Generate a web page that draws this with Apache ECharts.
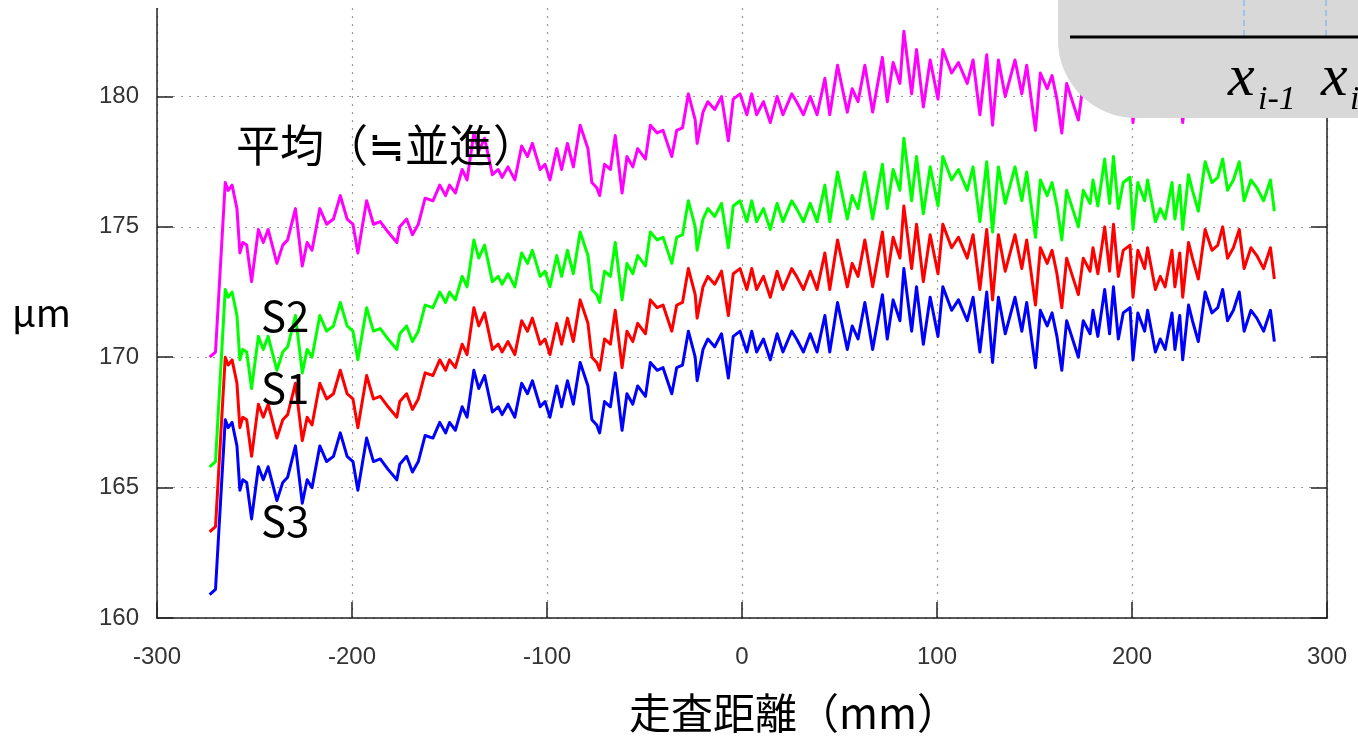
<!DOCTYPE html>
<html><head><meta charset="utf-8">
<script src="https://cdn.jsdelivr.net/npm/echarts@6/dist/echarts.min.js"></script>
<style>html,body{margin:0;padding:0;background:#fff}#c{width:1358px;height:737px}</style>
</head><body><div id="c"></div>
<script>
const xs = [
-273,-270,-265,-263.5,-261.5,-259,-257.5,-256,-254,-251.5,
-248,-245.5,-243,-238.5,-235.5,-233,-229,-225.5,-223,-220.5,
-216.5,-213,-209.5,-206,-202.5,-199.5,-197,-192.5,-189,-185.5,
-181.5,-177,-175.5,-172,-169,-166,-162.5,-158.5,-155,-152,
-150,-147,-143.5,-141,-137.5,-135,-132,-128,-125,-123,
-120,-116.5,-113,-110,-107.5,-103.5,-101,-98.5,-95,-92.5,
-89.5,-86.5,-83,-79,-77,-74.5,-73,-70.5,-67.5,-65,
-61.5,-59,-56,-53.5,-49.5,-47,-43.5,-40.5,-36,-33.5,
-30.5,-27.5,-24,-23,-20,-17.5,-14,-10.5,-7,-4.5,
-1,2.5,5,7.5,11,14.5,18,21,25.5,28,
31.5,35,38.5,42.5,45,49,54,56.5,59.5,63,
67,72,74.5,77.5,81,83,87,89.5,93,96.5,
100.5,103,107.5,111,115.5,118.5,122,125.5,128.5,131.5,
135,140,143.5,146,150.5,153,156.5,159,161.5,164,
166.5,169.5,172.5,175,178.5,180,182.5,186,188.5,190.5,
193,195.5,199,200.5,203,206.5,208,212,214.5,217,
220.5,222,224.5,226,229,231,234,237.5,241,244,
246.5,249,252,255,257.5,261,264,267.5,271,273];

const s3 = [
160.9,161.1,167.6,167.3,167.5,166.6,164.9,165.3,165.2,163.8,
165.8,165.3,165.8,164.5,165.2,165.4,166.6,164.4,165.3,165.0,
166.6,166.0,166.2,167.1,166.2,166.0,164.9,166.9,166.0,166.1,
165.7,165.3,165.9,166.2,165.6,166.0,167.0,166.9,167.5,167.1,
167.5,167.2,168.1,167.7,169.5,168.8,169.3,167.9,168.1,167.8,
168.2,167.7,169.0,168.6,169.1,168.1,168.3,167.7,168.9,168.1,
169.1,168.2,169.8,168.9,167.6,167.4,167.1,168.3,168.1,169.4,
167.2,168.6,168.2,168.9,168.5,169.8,169.5,169.6,168.6,169.6,
169.7,171.0,170.0,169.1,170.3,170.7,170.4,170.9,169.2,170.8,
171.0,170.2,171.0,170.2,170.7,169.9,170.9,170.2,171.0,170.7,
170.2,170.9,170.2,171.6,170.2,172.1,170.3,171.2,170.7,172.1,
170.3,172.4,170.7,172.2,171.4,173.4,171.0,172.7,170.5,172.3,
170.8,172.7,171.8,172.2,171.4,172.3,170.2,172.5,169.8,172.3,
170.9,172.3,171.0,172.1,169.6,171.8,171.2,171.7,170.8,169.5,
171.4,170.7,170.0,171.4,170.9,171.8,170.8,172.6,170.9,172.7,
170.7,171.7,171.9,169.9,171.7,171.0,171.8,170.2,170.7,170.3,
171.7,170.3,171.6,169.9,172.0,171.4,170.6,172.5,171.7,171.9,
172.6,171.4,171.8,172.5,171.0,171.8,171.5,171.0,171.8,170.6];

const s1 = [
163.3,163.5,170.0,169.7,169.9,169.0,167.3,167.7,167.6,166.2,
168.2,167.7,168.2,166.9,167.6,167.8,169.0,166.8,167.7,167.4,
169.0,168.4,168.6,169.5,168.6,168.4,167.3,169.3,168.4,168.5,
168.1,167.7,168.3,168.6,168.0,168.4,169.4,169.3,169.9,169.5,
169.9,169.6,170.5,170.1,171.9,171.2,171.7,170.3,170.5,170.2,
170.6,170.1,171.4,171.0,171.5,170.5,170.7,170.1,171.3,170.5,
171.5,170.6,172.2,171.3,170.0,169.8,169.5,170.7,170.5,171.8,
169.6,171.0,170.6,171.3,170.9,172.2,171.9,172.0,171.0,172.0,
172.1,173.4,172.4,171.5,172.7,173.1,172.8,173.3,171.6,173.2,
173.4,172.6,173.4,172.6,173.1,172.3,173.3,172.6,173.4,173.1,
172.6,173.3,172.6,174.0,172.6,174.5,172.7,173.6,173.1,174.5,
172.7,174.8,173.1,174.6,173.8,175.8,173.4,175.1,172.9,174.7,
173.2,175.1,174.2,174.6,173.8,174.7,172.6,174.9,172.2,174.7,
173.3,174.7,173.4,174.5,172.0,174.2,173.6,174.1,173.2,171.9,
173.8,173.1,172.4,173.8,173.3,174.2,173.2,175.0,173.3,175.1,
173.1,174.1,174.3,172.3,174.1,173.4,174.2,172.6,173.1,172.7,
174.1,172.7,174.0,172.3,174.4,173.8,173.0,174.9,174.1,174.3,
175.0,173.8,174.2,174.9,173.4,174.2,173.9,173.4,174.2,173.0];

const s2 = [
165.8,166.0,172.6,172.3,172.5,171.6,169.9,170.3,170.2,168.8,
170.8,170.3,170.8,169.5,170.2,170.4,171.6,169.4,170.3,170.0,
171.6,171.0,171.2,172.1,171.2,171.0,169.9,171.9,171.0,171.1,
170.7,170.3,170.9,171.2,170.6,171.0,172.0,171.9,172.5,172.1,
172.5,172.2,173.1,172.7,174.5,173.8,174.3,172.9,173.1,172.8,
173.2,172.7,174.0,173.6,174.1,173.1,173.3,172.7,173.9,173.1,
174.1,173.2,174.8,173.9,172.6,172.4,172.1,173.3,173.1,174.4,
172.2,173.6,173.2,173.9,173.5,174.8,174.5,174.6,173.6,174.6,
174.7,176.0,175.0,174.1,175.3,175.7,175.4,175.9,174.2,175.8,
176.0,175.2,176.0,175.2,175.7,174.9,175.9,175.2,176.0,175.7,
175.2,175.9,175.2,176.6,175.2,177.1,175.3,176.2,175.7,177.1,
175.3,177.4,175.7,177.2,176.4,178.4,176.0,177.7,175.5,177.3,
175.8,177.7,176.8,177.2,176.4,177.3,175.2,177.5,174.8,177.3,
175.9,177.3,176.0,177.1,174.6,176.8,176.2,176.7,175.8,174.5,
176.4,175.7,175.0,176.4,175.9,176.8,175.8,177.6,175.9,177.7,
175.7,176.7,176.9,174.9,176.7,176.0,176.8,175.2,175.7,175.3,
176.7,175.3,176.6,174.9,177.0,176.4,175.6,177.5,176.7,176.9,
177.6,176.4,176.8,177.5,176.0,176.8,176.5,176.0,176.8,175.6];

const avg = [
170.0,170.2,176.7,176.4,176.6,175.7,174.0,174.4,174.3,172.9,
174.9,174.4,174.9,173.6,174.3,174.5,175.7,173.5,174.4,174.1,
175.7,175.1,175.3,176.2,175.3,175.1,174.0,176.0,175.1,175.2,
174.8,174.4,175.0,175.3,174.7,175.1,176.1,176.0,176.6,176.2,
176.6,176.3,177.2,176.8,178.6,177.9,178.4,177.0,177.2,176.9,
177.3,176.8,178.1,177.7,178.2,177.2,177.4,176.8,178.0,177.2,
178.2,177.3,178.9,178.0,176.7,176.5,176.2,177.4,177.2,178.5,
176.3,177.7,177.3,178.0,177.6,178.9,178.6,178.7,177.7,178.7,
178.8,180.1,179.1,178.2,179.4,179.8,179.5,180.0,178.3,179.9,
180.1,179.3,180.1,179.3,179.8,179.0,180.0,179.3,180.1,179.8,
179.3,180.0,179.3,180.7,179.3,181.2,179.4,180.3,179.8,181.2,
179.4,181.5,179.8,181.3,180.5,182.5,180.1,181.8,179.6,181.4,
179.9,181.8,180.9,181.3,180.5,181.4,179.3,181.6,178.9,181.4,
180.0,181.4,180.1,181.2,178.7,180.9,180.3,180.8,179.9,178.6,
180.5,179.8,179.1,180.5,180.0,180.9,179.9,181.7,180.0,181.8,
179.8,180.8,181.0,179.0,180.8,180.1,180.9,179.3,179.8,179.4,
180.8,179.4,180.7,179.0,181.1,180.5,179.7,181.6,180.8,181.0,
181.7,180.5,180.9,181.6,180.1,180.9,180.6,180.1,180.9,179.7];

const seriesDefs = [
  {name: '平均', values: avg, color: '#ff00ff'},
  {name: 'S2', values: s2, color: '#00ff00'},
  {name: 'S1', values: s1, color: '#ff0000'},
  {name: 'S3', values: s3, color: '#0000ff'}
];

const chart = echarts.init(document.getElementById('c'), null, {renderer: 'canvas'});
const tickFont = {fontFamily: 'Liberation Sans', fontSize: 24, color: '#333'};
const grid = {type: [2, 6], color: '#999', width: 1.2};
const cjk = '"Noto Sans CJK JP", "Noto Sans", sans-serif';
const yFmt = v => (Math.abs(v / 5 - Math.round(v / 5)) < 1e-6 ? String(v) : '');

chart.setOption({
  animation: false,
  backgroundColor: '#fff',
  grid: {left: 157, right: 31, top: 0, bottom: 119, containLabel: false},
  xAxis: {
    type: 'value', min: -300, max: 300, interval: 100,
    axisLine: {show: true, lineStyle: {color: '#222', width: 1.5}},
    axisTick: {show: true, inside: true, length: 16, lineStyle: {color: '#222', width: 1.5}},
    axisLabel: Object.assign({margin: 27}, tickFont),
    splitLine: {show: true, lineStyle: grid}
  },
  yAxis: [{
    type: 'value', min: 160, max: 183.7, interval: 5, position: 'left',
    axisLine: {show: true, onZero: false, lineStyle: {color: '#222', width: 1.5}},
    axisTick: {show: true, inside: true, length: 16, lineStyle: {color: '#222', width: 1.5}},
    axisLabel: Object.assign({margin: 18, formatter: yFmt}, tickFont),
    splitLine: {show: true, lineStyle: grid}
  }, {
    type: 'value', min: 160, max: 183.7, interval: 5, position: 'right',
    axisLine: {show: true, onZero: false, lineStyle: {color: '#222', width: 1.5}},
    axisTick: {show: true, inside: true, length: 16, lineStyle: {color: '#222', width: 1.5}},
    axisLabel: {show: false},
    splitLine: {show: false}
  }],
  series: seriesDefs.map(d => ({
    type: 'line', name: d.name, yAxisIndex: 0,
    data: xs.map((x, i) => [x, d.values[i]]),
    showSymbol: false, symbol: 'none',
    lineStyle: {color: d.color, width: 3, join: 'round'},
    itemStyle: {color: d.color}
  })),
  graphic: [
    {type: 'rect', z: 100, shape: {x: 0, y: 0, width: 1058, height: 8}, style: {fill: '#fff'}},
    {type: 'text', z: 100, style: {text: '平均（≒並進）', x: 236, y: 145, font: '44px ' + cjk, fill: '#000', verticalAlign: 'middle'}},
    {type: 'text', z: 100, style: {text: 'S2', x: 261, y: 316, font: '42px ' + cjk, fill: '#000', verticalAlign: 'middle'}},
    {type: 'text', z: 100, style: {text: 'S1', x: 261, y: 388, font: '42px ' + cjk, fill: '#000', verticalAlign: 'middle'}},
    {type: 'text', z: 100, style: {text: 'S3', x: 261, y: 521, font: '42px ' + cjk, fill: '#000', verticalAlign: 'middle'}},
    {type: 'text', z: 100, style: {text: 'μm', x: 12, y: 313, font: '38px ' + cjk, fill: '#000', verticalAlign: 'middle'}},
    {type: 'text', z: 100, style: {text: '走査距離（mm）', x: 794, y: 713, font: '42px ' + cjk, fill: '#000', align: 'center', verticalAlign: 'middle'}},
    {type: 'rect', z: 110, shape: {x: 1058, y: -100, width: 400, height: 218, r: [0, 0, 0, 78]}, style: {fill: '#d8d8d8'}},
    {type: 'line', z: 111, shape: {x1: 1244, y1: 0, x2: 1244, y2: 36}, style: {stroke: '#9dc3e6', lineWidth: 2, lineDash: [6, 4]}},
    {type: 'line', z: 111, shape: {x1: 1326, y1: 0, x2: 1326, y2: 36}, style: {stroke: '#9dc3e6', lineWidth: 2, lineDash: [6, 4]}},
    {type: 'line', z: 112, shape: {x1: 1070, y1: 37, x2: 1358, y2: 37}, style: {stroke: '#000', lineWidth: 3}},
    {type: 'text', z: 112, style: {text: 'x', x: 1228, y: 79, font: 'italic 60px "Liberation Serif", serif', fill: '#000', verticalAlign: 'middle'}},
    {type: 'text', z: 112, style: {text: 'i-1', x: 1258, y: 100, font: 'italic 34px "Liberation Serif", serif', fill: '#000', verticalAlign: 'middle'}},
    {type: 'text', z: 112, style: {text: 'x', x: 1321, y: 79, font: 'italic 60px "Liberation Serif", serif', fill: '#000', verticalAlign: 'middle'}},
    {type: 'text', z: 112, style: {text: 'i', x: 1350, y: 100, font: 'italic 34px "Liberation Serif", serif', fill: '#000', verticalAlign: 'middle'}}
  ]
});
</script>
</body></html>
